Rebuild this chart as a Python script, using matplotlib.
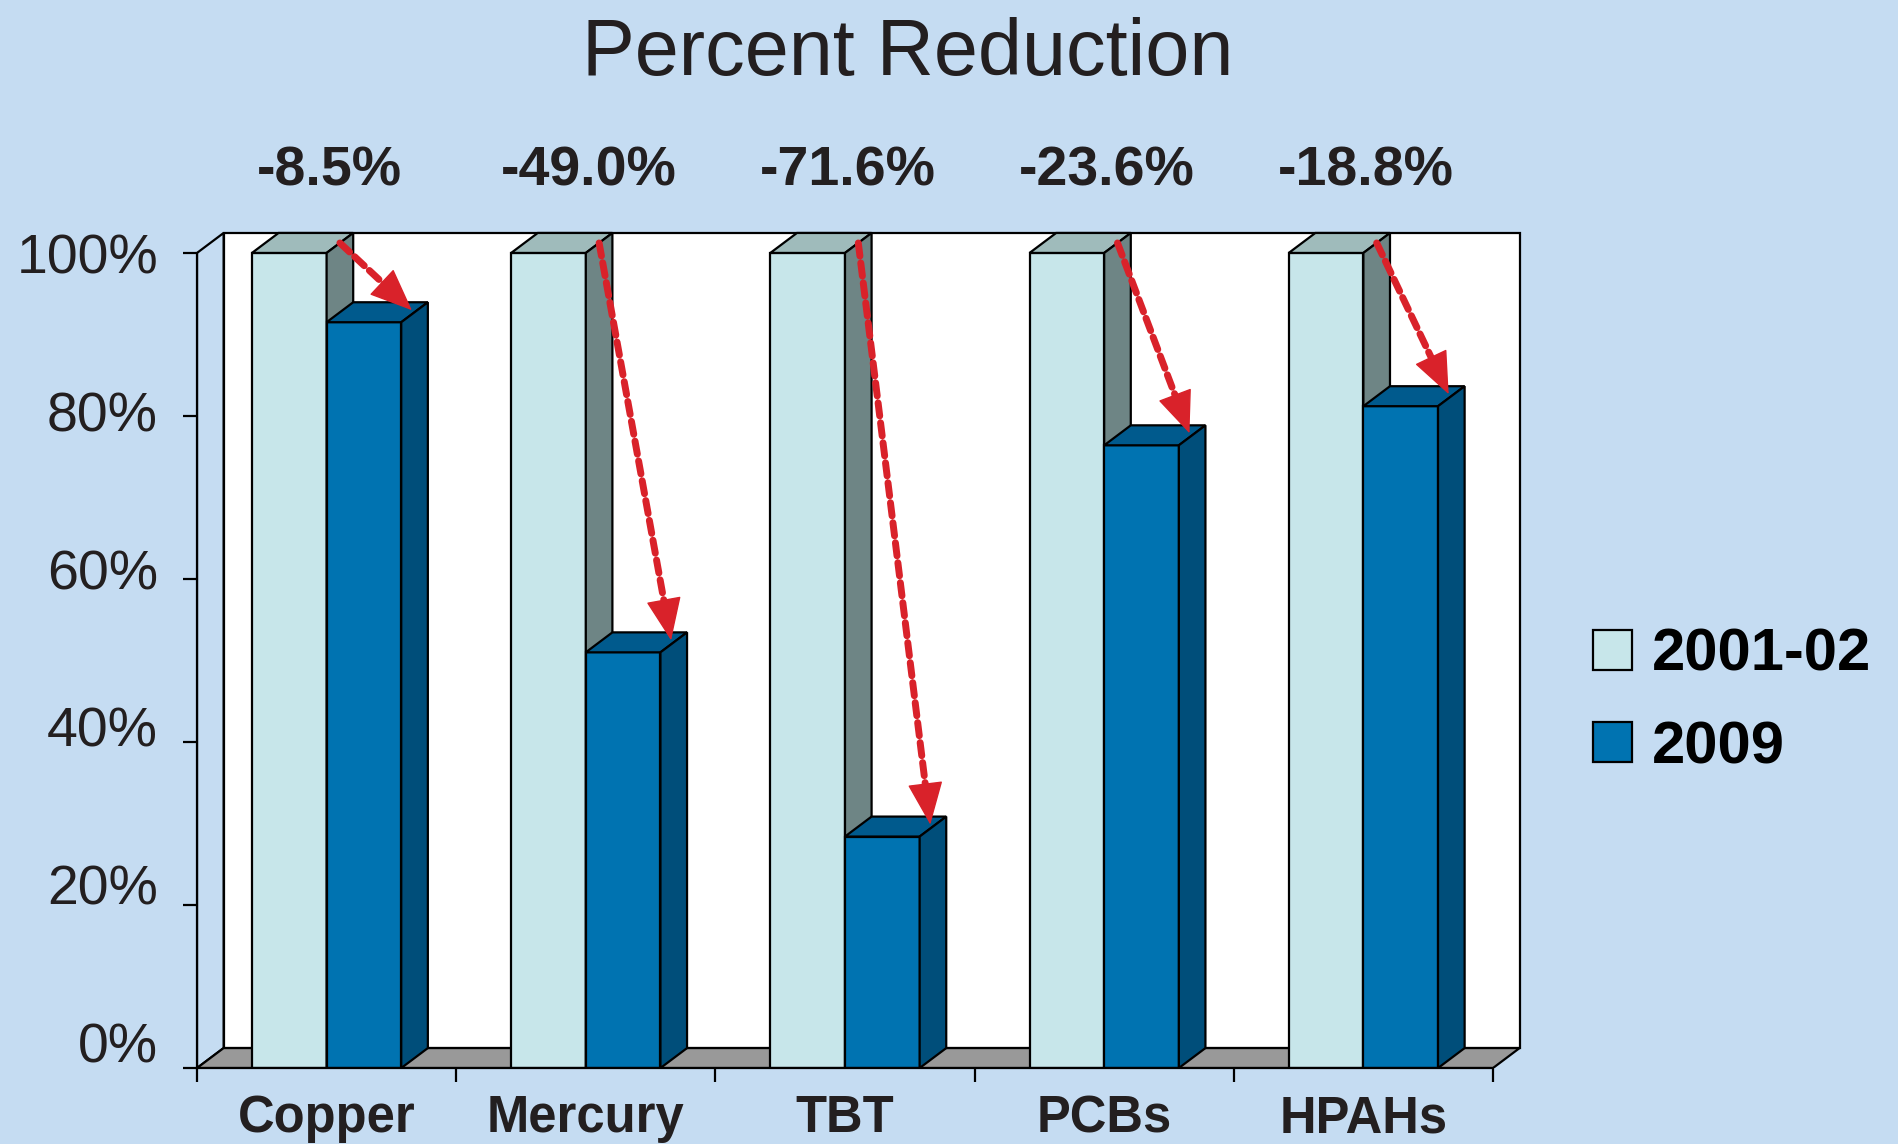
import numpy as np
import matplotlib.pyplot as plt
from matplotlib.patches import Polygon, Patch

# values (2001-02 normalised to 100%)
categories = ["Copper", "Mercury", "TBT", "PCBs", "HPAHs"]
base_2001 = [100, 100, 100, 100, 100]
val_2009 = [91.5, 51.0, 28.4, 76.4, 81.2]
changes = ["-8.5%", "-49.0%", "-71.6%", "-23.6%", "-18.8%"]
yticks = [0, 20, 40, 60, 80, 100]
series = ["2001-02", "2009"]

bg = "#c5dcf2"
light = ("#c7e6ea", "#9fbbbb", "#6e8585")   # front, top, side
dark = ("#0073b1", "#005a8d", "#004e7a")
floor_c = "#999999"
red = "#d9222a"
ink = "#231f20"

plt.rcParams['font.family'] = ['Liberation Sans', 'DejaVu Sans']

fig = plt.figure(figsize=(18.98, 11.44), dpi=100, facecolor=bg)
ax = fig.add_axes([0.1038, 0.0664, 0.6992, 0.741])
ax.set_xlim(0, 5.12)
ax.set_ylim(0, 104)
ax.patch.set_visible(False)

n = len(categories)
dx, dy = 0.1026, 2.45   # depth offset of the fake 3d
w = 0.288               # bar width


def poly(pts, fc, z=1):
    ax.add_patch(Polygon(pts, closed=True, facecolor=fc, edgecolor='black',
                         lw=1.6, joinstyle='miter', zorder=z))


def box(x0, top, cols):
    x1 = x0 + w
    poly([(x0, 0), (x1, 0), (x1, top), (x0, top)], cols[0], 3)
    poly([(x0, top), (x1, top), (x1 + dx, top + dy), (x0 + dx, top + dy)], cols[1], 3)
    poly([(x1, 0), (x1 + dx, dy), (x1 + dx, top + dy), (x1, top)], cols[2], 3)


def arrow(p0, p1):
    # dashed shaft up to the head, then a solid head
    d0 = ax.transData.transform(p0)
    d1 = ax.transData.transform(p1)
    u = (d1 - d0) / np.hypot(*(d1 - d0))
    inv = ax.transData.inverted()
    base = inv.transform(d1 - u * 34)
    back = inv.transform(d1 - u * 40)
    ax.annotate('', xy=base, xytext=p0,
                arrowprops=dict(arrowstyle='-', color=red, lw=5,
                                linestyle=(0, (1.9, 1.0)), shrinkA=0, shrinkB=0),
                zorder=5, annotation_clip=False)
    ax.annotate('', xy=p1, xytext=back,
                arrowprops=dict(arrowstyle='-|>,head_length=1.4,head_width=0.58',
                                color=red, lw=1, mutation_scale=20,
                                shrinkA=0, shrinkB=0),
                zorder=5, annotation_clip=False)


# walls and floor
poly([(dx, dy), (n + dx, dy), (n + dx, 100 + dy), (dx, 100 + dy)], "white")
poly([(0, 0), (dx, dy), (dx, 100 + dy), (0, 100)], bg)
poly([(0, 0), (n, 0), (n + dx, dy), (dx, dy)], floor_c)

for i in range(n):
    c = i + 0.5
    box(c - w, base_2001[i], light)
    box(c, val_2009[i], dark)
    arrow((c + 0.5 * dx, base_2001[i] + 0.5 * dy),
          (c + w + 0.4 * dx, val_2009[i] + 0.6 * dy))
    ax.text(c + 0.01, 108.3, changes[i], ha='center', va='baseline', fontsize=40,
            weight='bold', color=ink, clip_on=False)

# axes
for s in ['top', 'right']:
    ax.spines[s].set_visible(False)
for s in ['left', 'bottom']:
    ax.spines[s].set_linewidth(1.6)
    ax.spines[s].set_zorder(4)
ax.spines['left'].set_bounds(0, 100)
ax.spines['bottom'].set_bounds(0, n)

# y labels in the original sit a little closer together than the ticks
ax.set_yticks(yticks, [''] * len(yticks))
ax.tick_params(axis='y', length=10, width=1.6)
for t in yticks:
    ax.annotate(f"{t}%", xy=(0, 100 - (100 - t) * 0.967),
                xycoords=('axes fraction', 'data'), xytext=(-28, -5),
                textcoords='offset points', ha='right', va='center',
                fontsize=40, color=ink, annotation_clip=False)

ax.set_xticks(range(n + 1), [''] * (n + 1))
ax.tick_params(axis='x', which='major', length=10, width=1.6)
ax.set_xticks([i + 0.5 for i in range(n)], categories, minor=True)
ax.tick_params(axis='x', which='minor', length=0, pad=19, labelsize=36.5, labelcolor=ink)
for lab in ax.get_xticklabels(minor=True):
    lab.set_fontweight('bold')

fig.text(0.4784, 0.9344, "Percent Reduction", ha='center', va='baseline',
         fontsize=57, color=ink)

handles = [Patch(facecolor=light[0], edgecolor='black', lw=1.6),
           Patch(facecolor=dark[0], edgecolor='black', lw=1.6)]
fig.legend(handles, series, loc='center left', bbox_to_anchor=(0.8393, 0.3868),
           frameon=False, borderpad=0, borderaxespad=0, handlelength=0.65,
           handleheight=0.65, handletextpad=0.33, labelspacing=0.62,
           prop={'weight': 'bold', 'size': 43})

fig.savefig("out.png", dpi=100, facecolor=bg)
